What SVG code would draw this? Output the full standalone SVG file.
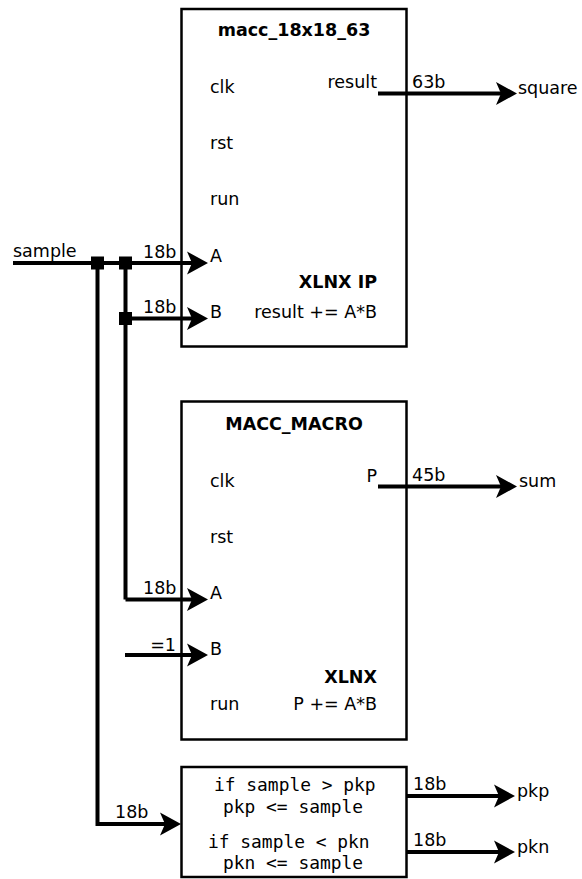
<svg xmlns="http://www.w3.org/2000/svg" width="582" height="879" viewBox="0 0 582 879">
<style>
.box{fill:#fff;stroke:#000;stroke-width:2.5}
.w{fill:none;stroke:#000;stroke-width:4;marker-end:url(#ah)}
.wn{fill:none;stroke:#000;stroke-width:4}
text{font-family:"DejaVu Sans","Liberation Sans",sans-serif;font-size:17.5px;fill:#000}
.b{font-weight:bold}
.m{font-family:"DejaVu Sans Mono","Liberation Mono",monospace;font-size:17.9px}
.e{text-anchor:end}
.c{text-anchor:middle}
.j{fill:#000}
</style>
<defs>
<marker id="ah" viewBox="0 0 21 24" refX="9" refY="12" markerWidth="21" markerHeight="24" markerUnits="userSpaceOnUse" orient="auto">
<path d="M21,12 L0,0.5 L5,12 L0,23.5 Z" fill="#000"/>
</marker>
</defs>
<g id="macc_18x18_63">
<rect class="box" x="181.5" y="9" width="225" height="337.5"/>
<text class="b c" x="294" y="36">macc_18x18_63</text>
<text x="210" y="93">clk</text>
<text x="210" y="149">rst</text>
<text x="210" y="205">run</text>
<text x="210" y="262">A</text>
<text x="210" y="318">B</text>
<text class="e" x="377" y="88">result</text>
<text class="b e" x="377" y="288">XLNX IP</text>
<text class="e" x="377" y="318">result += A*B</text>
</g>
<g id="macc_macro">
<rect class="box" x="181.5" y="401.5" width="225" height="338"/>
<text class="b c" x="294" y="430">MACC_MACRO</text>
<text x="210" y="487">clk</text>
<text x="210" y="543">rst</text>
<text x="210" y="599">A</text>
<text x="210" y="655">B</text>
<text x="210" y="710">run</text>
<text class="e" x="377" y="482">P</text>
<text class="b e" x="377" y="683">XLNX</text>
<text class="e" x="377" y="710">P += A*B</text>
</g>
<g id="peak">
<rect class="box" x="181.5" y="767" width="225" height="110"/>
<text class="m" x="214" y="791">if sample &gt; pkp</text>
<text class="m" x="223" y="813">pkp &lt;= sample</text>
<text class="m" x="208" y="848">if sample &lt; pkn</text>
<text class="m" x="223" y="869">pkn &lt;= sample</text>
</g>
<g id="connectors">
<path class="w" d="M13,263 H196"/>
<path class="wn" d="M97.5,263 V824 H120"/>
<path class="w" d="M97.5,824 H169"/>
<path class="wn" d="M125.5,263 V599.5"/>
<path class="w" d="M125.5,318.5 H196"/>
<path class="w" d="M125.5,599.5 H196"/>
<path class="w" d="M125,655 H196"/>
<path class="w" d="M378,93.5 H505"/>
<path class="w" d="M378,486.5 H505"/>
<path class="w" d="M406,796 H503"/>
<path class="w" d="M406,852 H503"/>
<rect class="j" x="91" y="256.5" width="13" height="13"/>
<rect class="j" x="119" y="256.5" width="13" height="13"/>
<rect class="j" x="119" y="312" width="13" height="13"/>
<text x="13" y="257">sample</text>
<text x="143" y="258">18b</text>
<text x="143" y="313">18b</text>
<text x="143" y="594">18b</text>
<text class="e" x="176" y="651">=1</text>
<text x="115" y="818">18b</text>
<text x="412" y="88">63b</text>
<text x="412" y="481">45b</text>
<text x="413" y="790">18b</text>
<text x="413" y="846">18b</text>
<text x="518" y="94">square</text>
<text x="519" y="487">sum</text>
<text x="517" y="797">pkp</text>
<text x="517" y="853">pkn</text>
</g>
</svg>
